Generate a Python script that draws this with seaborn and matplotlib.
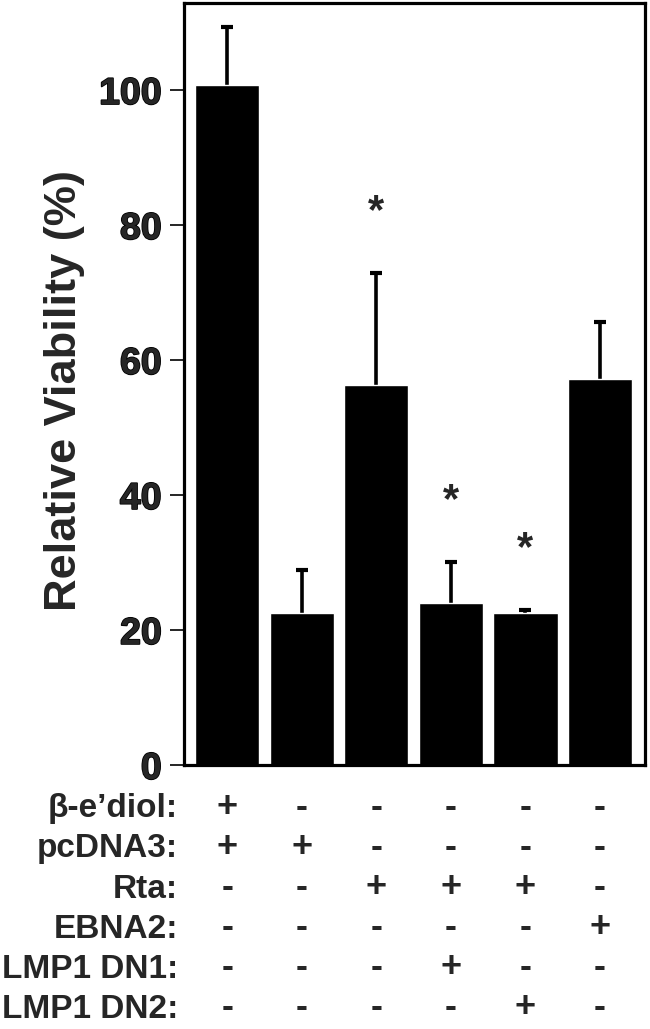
import matplotlib
matplotlib.use("Agg")
import matplotlib.pyplot as plt
import matplotlib.transforms as mtransforms
import matplotlib.patheffects as pe
import numpy as np
import seaborn as sns

# -----------------------------
# DATA
# -----------------------------
groups = ["G1", "G2", "G3", "G4", "G5", "G6"]
viability = [100.8, 22.5, 56.3, 24.0, 22.5, 57.2]
err_up = [8.5, 6.4, 16.6, 6.1, 0.5, 8.4]
significant = [False, False, True, True, True, False]

row_labels = ["β-e’diol:", "pcDNA3:", "Rta:", "EBNA2:", "LMP1 DN1:", "LMP1 DN2:"]
beta_ediol = ["+", "-", "-", "-", "-", "-"]
pcdna3 = ["+", "+", "-", "-", "-", "-"]
rta = ["-", "-", "+", "+", "+", "-"]
ebna2 = ["-", "-", "-", "-", "-", "+"]
lmp1_dn1 = ["-", "-", "-", "+", "-", "-"]
lmp1_dn2 = ["-", "-", "-", "-", "+", "-"]
sign_rows = [beta_ediol, pcdna3, rta, ebna2, lmp1_dn1, lmp1_dn2]

yticks = [0, 20, 40, 60, 80, 100]

# -----------------------------
# STYLE
# -----------------------------
sns.set_style("ticks")
plt.rcParams["font.family"] = ["Liberation Sans", "DejaVu Sans"]
plt.rcParams["font.weight"] = "bold"

fig = plt.figure(figsize=(6.5, 10.29), dpi=100)
ax = fig.add_axes([0.283, 0.2566, 0.709, 0.7405])

# -----------------------------
# BARS + ERROR BARS (upper only)
# -----------------------------
sns.barplot(x=groups, y=viability, color="black", saturation=1,
            width=0.86, ax=ax, errorbar=None, zorder=2)
x = np.arange(len(groups))
_, caps, _ = ax.errorbar(x, viability, yerr=[np.zeros(len(x)), err_up],
                         fmt="none", ecolor="black", elinewidth=2.6,
                         capsize=4.5, capthick=3, zorder=1)
caps[0].set_visible(False)  # hide the cap sitting on the bar top

for xi, v, e, s in zip(x, viability, err_up, significant):
    if s:
        ax.text(xi, v + e + 9.0, "*", ha="center", va="center",
                fontsize=30, fontweight="bold")

# -----------------------------
# AXES
# -----------------------------
ax.set_xlim(-0.58, 5.6)
ax.set_ylim(0, 112.9)
ax.set_yticks(yticks)
ax.set_yticklabels([str(t) for t in yticks], fontsize=27, fontweight="bold")
for t in ax.get_yticklabels():
    t.set_path_effects([pe.withStroke(linewidth=1.2, foreground="black")])
ax.set_xticks([])
ax.set_xlabel("")
ax.set_ylabel("Relative Viability (%)", fontsize=32.5, fontweight="bold")
ax.yaxis.set_label_coords(-0.215, 0.492)
ax.tick_params(axis="y", length=10, width=1.2, pad=6, color="black")
for sp in ax.spines.values():
    sp.set_visible(True)
    sp.set_linewidth(2.3)
    sp.set_color("black")

# -----------------------------
# TREATMENT TABLE
# -----------------------------
trans = mtransforms.blended_transform_factory(ax.transData, fig.transFigure)
row_base_px = [817, 857, 897.5, 937.5, 977.5, 1017.5]
for lab, signs, ypx in zip(row_labels, sign_rows, row_base_px):
    yf = 1 - ypx / 1029
    fig.text(0.274, yf, lab, ha="right", va="baseline", fontsize=24,
             fontweight="bold")
    for xi, s in zip(x, signs):
        ax.text(xi, yf, s, transform=trans, ha="center", va="baseline",
                fontsize=26, fontweight="bold", clip_on=False)

fig.savefig("out.png", dpi=100)
